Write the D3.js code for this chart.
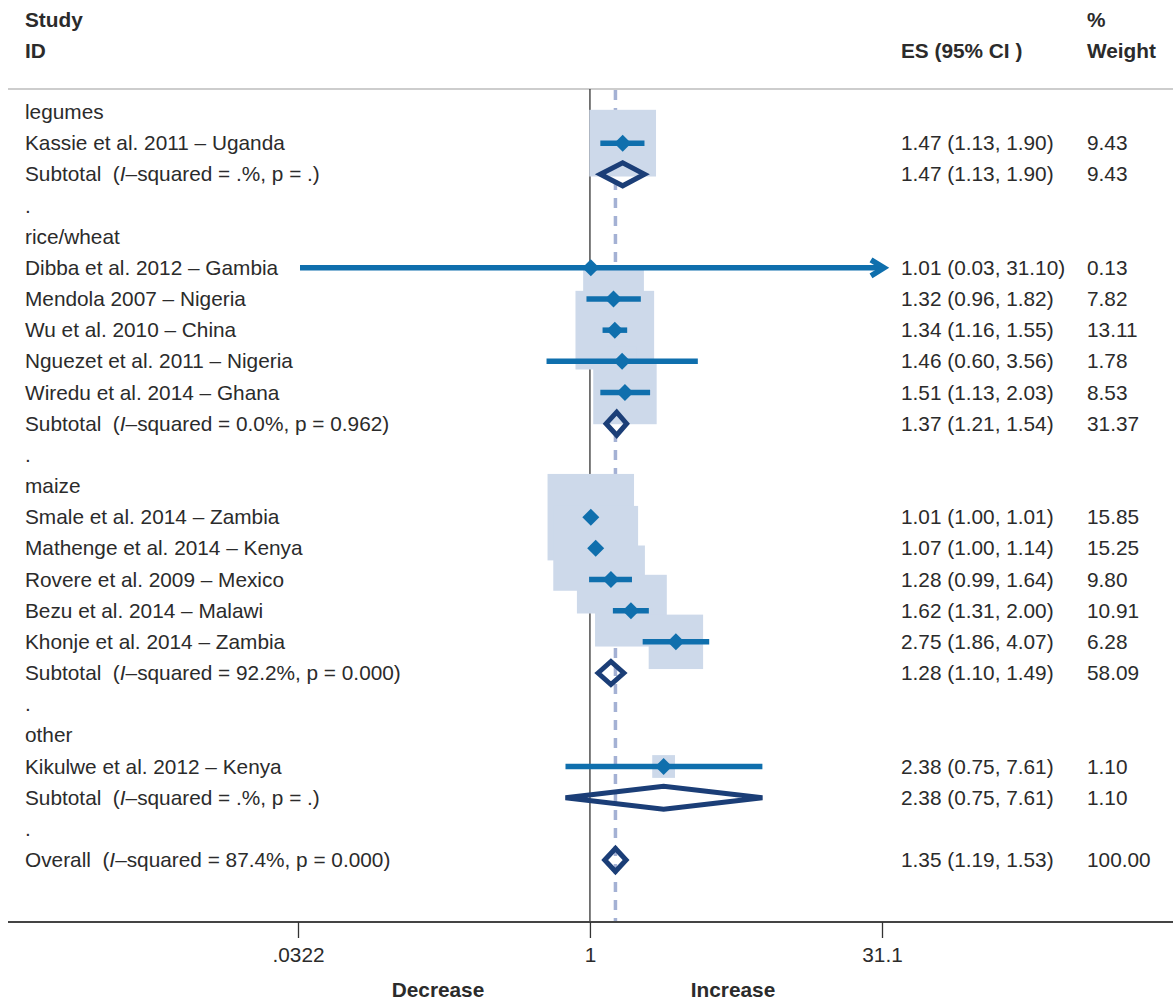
<!DOCTYPE html>
<html><head><meta charset="utf-8">
<script src="https://cdn.jsdelivr.net/npm/d3@7"></script>
<style>
html,body{margin:0;padding:0;background:#fff;}
text{font-family:"Liberation Sans",Arial,Helvetica,sans-serif;fill:#2b2b2b;white-space:pre;}
</style></head>
<body>
<svg id="chart" width="1173" height="1003"></svg>
<script>
// ---- data ----
const groups = ["legumes", "rice/wheat", "maize", "other"];
const studies = [
  "Kassie et al. 2011 – Uganda",
  "Dibba et al. 2012 – Gambia",
  "Mendola 2007 – Nigeria",
  "Wu et al. 2010 – China",
  "Nguezet et al. 2011 – Nigeria",
  "Wiredu et al. 2014 – Ghana",
  "Smale et al. 2014 – Zambia",
  "Mathenge et al. 2014 – Kenya",
  "Rovere et al. 2009 – Mexico",
  "Bezu et al. 2014 – Malawi",
  "Khonje et al. 2014 – Zambia",
  "Kikulwe et al. 2012 – Kenya"
];
const studyGroup = [0, 1, 1, 1, 1, 1, 2, 2, 2, 2, 2, 3];
const studyES    = [1.47, 1.01, 1.32, 1.34, 1.46, 1.51, 1.01, 1.07, 1.28, 1.62, 2.75, 2.38];
const studyLo    = [1.13, 0.03, 0.96, 1.16, 0.60, 1.13, 1.00, 1.00, 0.99, 1.31, 1.86, 0.75];
const studyHi    = [1.90, 31.10, 1.82, 1.55, 3.56, 2.03, 1.01, 1.14, 1.64, 2.00, 4.07, 7.61];
const studyW     = [9.43, 0.13, 7.82, 13.11, 1.78, 8.53, 15.85, 15.25, 9.80, 10.91, 6.28, 1.10];

const subI2  = [".%", "0.0%", "92.2%", ".%"];
const subP   = [".", "0.962", "0.000", "."];
const subES  = [1.47, 1.37, 1.28, 2.38];
const subLo  = [1.13, 1.21, 1.10, 0.75];
const subHi  = [1.90, 1.54, 1.49, 7.61];
const subW   = [9.43, 31.37, 58.09, 1.10];

const overallI2 = "87.4%", overallP = "0.000";
const overallES = 1.35, overallLo = 1.19, overallHi = 1.53, overallW = 100.00;

const tickValues = [0.0322, 1, 31.1];
const tickLabels = [".0322", "1", "31.1"];
const sideLabels = ["Decrease", "Increase"];

// ---- build rows ----
const rows = [];
groups.forEach((g, gi) => {
  rows.push({type: "group", label: g});
  studies.forEach((s, i) => {
    if (studyGroup[i] === gi) rows.push({type: "study", label: s, es: studyES[i], lo: studyLo[i], hi: studyHi[i], w: studyW[i]});
  });
  rows.push({type: "sub", prefix: "Subtotal", i2: subI2[gi], p: subP[gi], es: subES[gi], lo: subLo[gi], hi: subHi[gi], w: subW[gi]});
  rows.push({type: "dot", label: "."});
});
rows.push({type: "sub", prefix: "Overall", i2: overallI2, p: overallP, es: overallES, lo: overallLo, hi: overallHi, w: overallW});
rows.forEach((r, i) => r.idx = i);

// ---- scales ----
const svg = d3.select("#chart");
const x = d3.scaleLog().domain([tickValues[0], tickValues[2]]).range([298, 882]);
const y = d3.scalePoint().domain(d3.range(rows.length)).range([112, 860]);
const box = d3.scaleSqrt().domain([0, 9.43]).range([0, 66.7]);

const topY = 89, axisY = 922, FS = 20.8;
const C_LINE = "#0f6fad", C_BOX = "#cdd9ea", C_DIA = "#1b3e77", C_DASH = "#a4b1d4";

// header
svg.append("text").attr("x", 25).attr("y", 27).attr("font-weight", "bold").attr("font-size", FS).text("Study");
svg.append("text").attr("x", 25).attr("y", 58).attr("font-weight", "bold").attr("font-size", FS).text("ID");
svg.append("text").attr("x", 901).attr("y", 58).attr("font-weight", "bold").attr("font-size", FS).text("ES (95% CI )");
svg.append("text").attr("x", 1087).attr("y", 27).attr("font-weight", "bold").attr("font-size", FS).text("%");
svg.append("text").attr("x", 1087).attr("y", 58).attr("font-weight", "bold").attr("font-size", FS).text("Weight");
svg.append("line").attr("x1", 8).attr("x2", 1173).attr("y1", topY).attr("y2", topY).attr("stroke", "#bdbdbd").attr("stroke-width", 1.5);

// reference lines
svg.append("line").attr("x1", x(1)).attr("x2", x(1)).attr("y1", topY).attr("y2", axisY).attr("stroke", "#333").attr("stroke-width", 1.3);
svg.append("line").attr("x1", x(overallES)).attr("x2", x(overallES)).attr("y1", topY + 1).attr("y2", axisY)
  .attr("stroke", C_DASH).attr("stroke-width", 3.5).attr("stroke-dasharray", "10,8");

// boxes
const studyRows = rows.filter(r => r.type === "study");
svg.append("g").selectAll("rect").data(studyRows).join("rect")
  .attr("x", d => x(d.es) - box(d.w) / 2).attr("y", d => y(d.idx) - box(d.w) / 2)
  .attr("width", d => box(d.w)).attr("height", d => box(d.w)).attr("fill", C_BOX);

// CI lines
const xmin = x.domain()[0], xmax = x.domain()[1];
const ci = svg.append("g");
studyRows.forEach(d => {
  const x1 = d.lo < xmin ? x(xmin) + 2 : x(d.lo);
  const x2 = d.hi >= xmax ? x(xmax) + 1 : x(d.hi);
  ci.append("line").attr("x1", x1).attr("x2", x2).attr("y1", y(d.idx)).attr("y2", y(d.idx))
    .attr("stroke", C_LINE).attr("stroke-width", 5.5);
  if (d.hi >= xmax) {
    const yy = y(d.idx);
    ci.append("path").attr("d", `M${x2 - 12},${yy - 8}L${x2 + 1},${yy}L${x2 - 12},${yy + 8}`)
      .attr("fill", "none").attr("stroke", C_LINE).attr("stroke-width", 5.5).attr("stroke-linejoin", "miter");
  }
  const cx = x(d.es), cy = y(d.idx), s = 8.5;
  ci.append("path").attr("d", `M${cx - s},${cy}L${cx},${cy - s}L${cx + s},${cy}L${cx},${cy + s}Z`).attr("fill", C_LINE);
});

// subtotal diamonds
const subRows = rows.filter(r => r.type === "sub");
svg.append("g").selectAll("path").data(subRows).join("path")
  .attr("d", d => { const cy = y(d.idx), h = 11.5;
    return `M${x(d.lo)},${cy}L${x(d.es)},${cy - h}L${x(d.hi)},${cy}L${x(d.es)},${cy + h}Z`; })
  .attr("fill", "none").attr("stroke", C_DIA).attr("stroke-width", 5).attr("stroke-linejoin", "miter");

// row texts
const fmt = v => v.toFixed(2);
const tg = svg.append("g").attr("font-size", FS);
rows.forEach(r => {
  const by = y(r.idx) + 7;
  if (r.type === "sub") {
    const t = tg.append("text").attr("x", 25).attr("y", by);
    t.append("tspan").text(r.prefix + "  (");
    t.append("tspan").attr("font-style", "italic").text("I");
    t.append("tspan").text("–squared = " + r.i2 + ", p = " + r.p + ")");
  } else {
    tg.append("text").attr("x", 25).attr("y", by).text(r.label);
  }
  if (r.type === "study" || r.type === "sub") {
    tg.append("text").attr("x", 901).attr("y", by).text(`${fmt(r.es)} (${fmt(r.lo)}, ${fmt(r.hi)})`);
    tg.append("text").attr("x", 1087).attr("y", by).text(fmt(r.w));
  }
});

// axis
svg.append("line").attr("x1", 8).attr("x2", 1173).attr("y1", axisY).attr("y2", axisY).attr("stroke", "#444").attr("stroke-width", 1.8);
const ax = svg.append("g").attr("transform", `translate(0,${axisY})`)
  .call(d3.axisBottom(x).tickValues(tickValues).tickFormat((d, i) => tickLabels[i]).tickSize(16).tickPadding(9));
ax.select(".domain").remove();
ax.selectAll(".tick line").attr("stroke", "#333").attr("stroke-width", 1.3);
ax.selectAll(".tick text").attr("font-size", FS).attr("font-family", "Liberation Sans, Arial, sans-serif").attr("fill", "#2b2b2b");

svg.append("text").attr("x", 438).attr("y", 997).attr("text-anchor", "middle").attr("font-weight", "bold").attr("font-size", FS).text(sideLabels[0]);
svg.append("text").attr("x", 733).attr("y", 997).attr("text-anchor", "middle").attr("font-weight", "bold").attr("font-size", FS).text(sideLabels[1]);
</script>
</body></html>
